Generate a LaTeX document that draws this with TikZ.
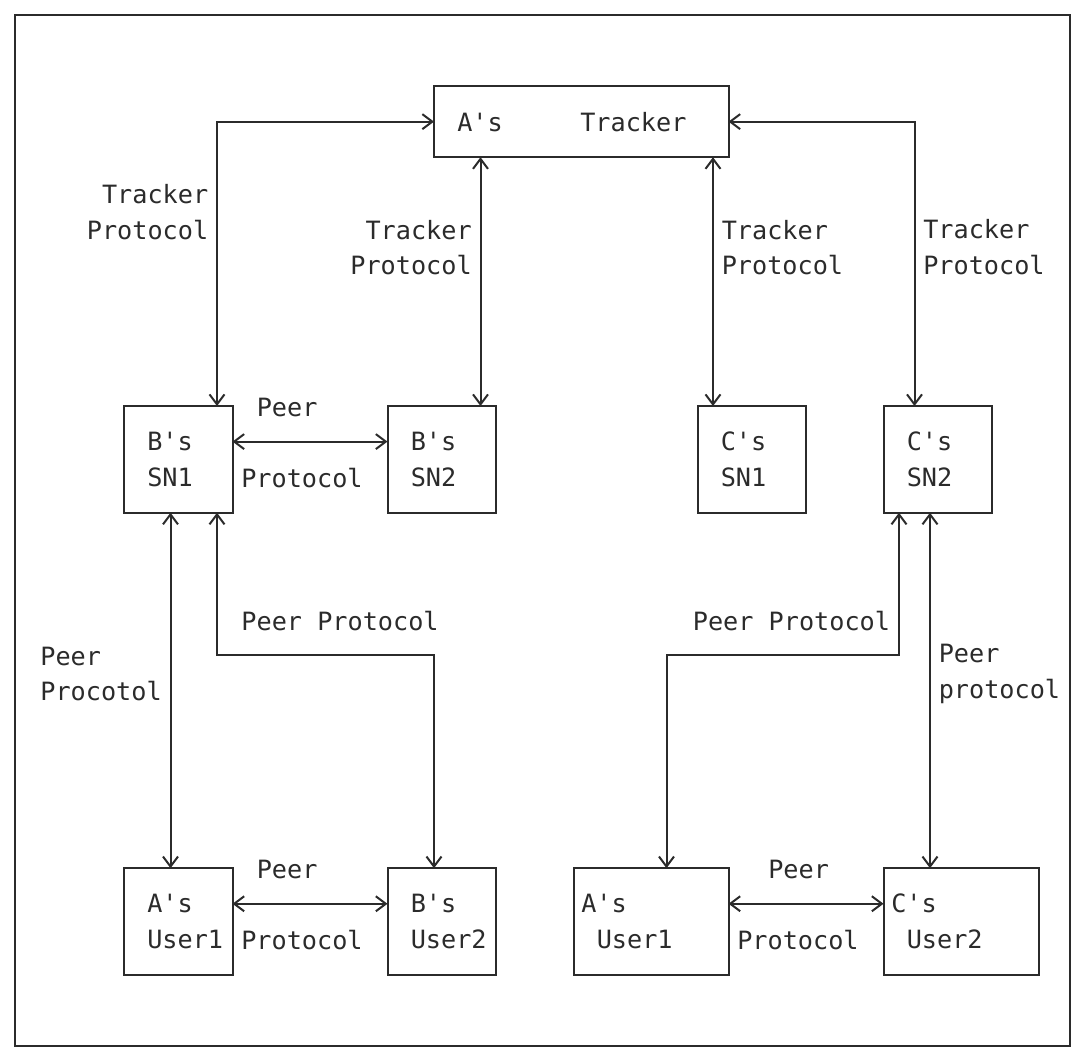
\documentclass[tikz,border=0pt]{standalone}
\usepackage{fontspec}
\newfontfamily\asciifont{DejaVu Sans Mono}[Ligatures=TeXOff]
\newcommand{\asciitext}{\asciifont\fontsize{12.6pt}{17.775pt}\selectfont}
\newcommand{\indt}{\hspace*{7.75pt}}
\usetikzlibrary{arrows.meta,positioning}
\definecolor{ink}{HTML}{2B2B2B}

\begin{document}
\begin{tikzpicture}[x=7.75pt,y=-17.775pt,>={Straight Barb[length=5pt,width=7.5pt]},
  every node/.style={font=\asciitext,text=ink},
  box/.style={draw=ink,line width=1pt,inner xsep=3.875pt,inner ysep=0pt,outer sep=0pt,align=left},
  snbox/.style={box,minimum width=54.25pt,minimum height=53.325pt,text width=46.5pt},
  wbox/.style={box,minimum width=77.5pt,minimum height=53.325pt,text width=69.75pt},
  lbl/.style={inner sep=0pt},
  link/.style={draw=ink,line width=1pt,<->}]
  \useasboundingbox (-1,-0.422) rectangle (68.42,29.2);
  \draw[ink,line width=1pt] (0,0) rectangle (68,29);

  % tracker and super nodes
  \node[box,minimum width=147.25pt,minimum height=35.55pt,text width=139.5pt] (tracker) at (36.5,3) {\indt A's\hspace{38.75pt}Tracker};
  \node[snbox] (bsn1) at (10.5,12.5) {\indt B's\\\indt SN1};
  \node[snbox,right=77.5pt of bsn1] (bsn2) {\indt B's\\\indt SN2};
  \node[snbox,right=100.75pt of bsn2] (csn1) {\indt C's\\\indt SN1};
  \node[snbox,right=38.75pt of csn1] (csn2) {\indt C's\\\indt SN2};

  % users
  \node[snbox,below=177.75pt of bsn1] (ausr1) {\indt A's\\\indt User1};
  \node[snbox,right=77.5pt of ausr1] (busr2) {\indt B's\\\indt User2};
  \node[wbox,right=38.75pt of busr2] (ausr1r) {A's\\\indt User1};
  \node[wbox,right=77.5pt of ausr1r] (cusr2) {C's\\\indt User2};

  % tracker protocol
  \draw[link] (tracker.west) -| node[lbl,pos=0.659,left=3.875pt,align=right] (tp1) {Tracker\\Protocol} (13,0 |- bsn1.north);
  \draw[link] (30,0 |- tracker.south) -- node[lbl,pos=0.363,left=3.875pt,align=right] (tp2) {Tracker\\Protocol} (30,0 |- bsn2.north);
  \draw[link] (45,0 |- tracker.south) -- node[lbl,pos=0.363,right=3.875pt,align=left] (tp3) {Tracker\\Protocol} (45,0 |- csn1.north);
  \draw[link] (tracker.east) -| node[lbl,pos=0.721,right=3.875pt,align=left] (tp4) {Tracker\\Protocol} (58,0 |- csn2.north);

  % peer protocol
  \draw[link] (bsn1.east |- 0,12) -- node[lbl,pos=0.15,anchor=base west,yshift=12.44pt] (pp1) {Peer}
    node[lbl,pos=0.05,anchor=base west,yshift=-23.1pt] (pp2) {Protocol} (bsn2.west |- 0,12);
  \draw[link] (10,0 |- bsn1.south) -- node[lbl,pos=0.454,left=3.875pt,align=left] (pp3) {Peer\\Procotol} (10,0 |- ausr1.north);
  \draw[link] (13,0 |- bsn1.south) -- (13,18) -| node[lbl,pos=0.054,anchor=base west,yshift=12.44pt] (pp4) {Peer Protocol} (27,0 |- busr2.north);
  \draw[link] (57,0 |- csn2.south) -- (57,18) -| node[lbl,pos=0.017,anchor=base east,yshift=12.44pt] (pp5) {Peer Protocol} (42,0 |- ausr1r.north);
  \draw[link] (59,0 |- csn2.south) -- node[lbl,pos=0.454,right=3.875pt,align=left] (pp6) {Peer\\protocol} (59,0 |- cusr2.north);
  \draw[link] (ausr1.east |- 0,25) -- node[lbl,pos=0.15,anchor=base west,yshift=12.44pt] (pp7) {Peer}
    node[lbl,pos=0.05,anchor=base west,yshift=-23.1pt] (pp8) {Protocol} (busr2.west |- 0,25);
  \draw[link] (ausr1r.east |- 0,25) -- node[lbl,pos=0.25,anchor=base west,yshift=12.44pt] (pp9) {Peer}
    node[lbl,pos=0.05,anchor=base west,yshift=-23.1pt] (pp10) {Protocol} (cusr2.west |- 0,25);
\end{tikzpicture}
\end{document}
